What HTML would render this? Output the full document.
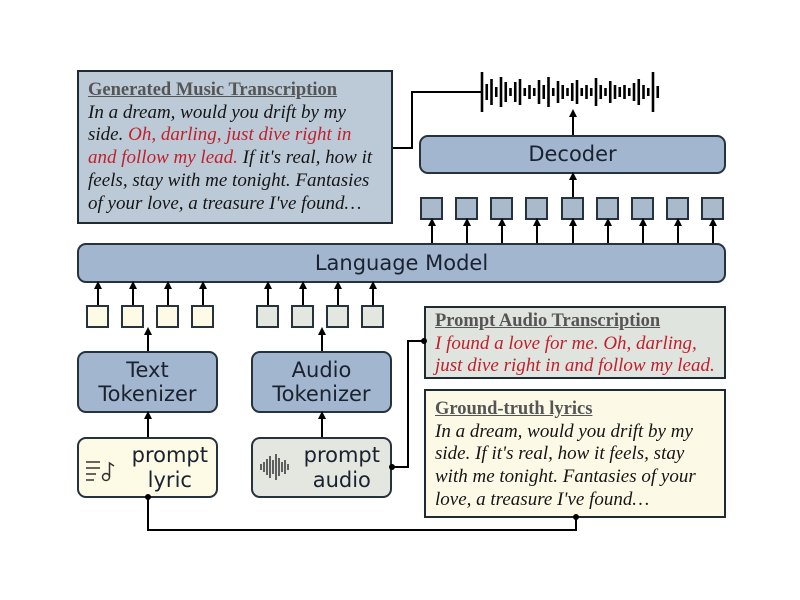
<!DOCTYPE html>
<html><head><meta charset="utf-8"><style>
body{margin:0;width:800px;height:600px;background:#fff;overflow:hidden;position:relative;font-family:"Liberation Sans","DejaVu Sans",sans-serif}
.b{position:absolute;box-sizing:border-box}
.r{border:2px solid #26323c;border-radius:9px;background:#a3b6cf;display:flex;align-items:center;justify-content:center;text-align:center;color:#1a2230;font-family:"DejaVu Sans",sans-serif;line-height:1.15}
.sq{position:absolute;box-sizing:border-box;border:2px solid #26323c;width:23px;height:23px}
.tb{border:2px solid #1f2b33;font-family:"Liberation Serif",serif;font-size:19px;line-height:22.7px;padding:2px 9px;color:#151515;font-style:italic;white-space:nowrap}
.tb h{display:block;font-style:normal;font-weight:bold;color:#555;text-decoration:underline;font-size:18.5px}
.red{color:#c0202c}
</style></head><body>
<div class="b tb" style="left:77px;top:70px;width:316px;height:154px;background:#bccad8;padding-top:7px"><h>Generated Music Transcription</h>In a dream, would you drift by my<br>side. <span class="red">Oh, darling, just dive right in<br>and follow my lead.</span> If it's real, how it<br>feels, stay with me tonight. Fantasies<br>of your love, a treasure I've found…</div>
<div class="b tb" style="left:424px;top:306px;width:302px;height:73px;background:#e0e4df;padding-top:2px"><h>Prompt Audio Transcription</h><span class="red">I found a love for me. Oh, darling,<br>just dive right in and follow my lead.</span></div>
<div class="b tb" style="left:424px;top:389px;width:302px;height:129px;background:#fcfae6;padding-top:7px"><h>Ground-truth lyrics</h>In a dream, would you drift by my<br>side. If it's real, how it feels, stay<br>with me tonight. Fantasies of your<br>love, a treasure I've found…</div>

<div class="b r" style="left:419px;top:135px;width:307px;height:39px;font-size:21px">Decoder</div>
<div class="b r" style="left:77px;top:243px;width:649px;height:40px;font-size:21px">Language Model</div>
<div class="b r" style="left:77px;top:351px;width:141px;height:62px;font-size:21px">Text<br>Tokenizer</div>
<div class="b r" style="left:251px;top:351px;width:141px;height:62px;font-size:21px">Audio<br>Tokenizer</div>
<div class="b r" style="left:77px;top:437px;width:141px;height:61px;font-size:21px;background:#fdfbe6;justify-content:flex-end;padding-right:8px">prompt<br>lyric</div>
<div class="b r" style="left:251px;top:437px;width:141px;height:61px;font-size:21px;background:#e4e6e0;justify-content:flex-end;padding-right:10px">prompt<br>audio</div>

<div class="sq" style="left:420px;top:197px;background:#a9bacd"></div>
<div class="sq" style="left:455px;top:197px;background:#a9bacd"></div>
<div class="sq" style="left:490px;top:197px;background:#a9bacd"></div>
<div class="sq" style="left:525px;top:197px;background:#a9bacd"></div>
<div class="sq" style="left:561px;top:197px;background:#a9bacd"></div>
<div class="sq" style="left:596px;top:197px;background:#a9bacd"></div>
<div class="sq" style="left:631px;top:197px;background:#a9bacd"></div>
<div class="sq" style="left:666px;top:197px;background:#a9bacd"></div>
<div class="sq" style="left:701px;top:197px;background:#a9bacd"></div>
<div class="sq" style="left:86px;top:305px;background:#fdfbe6"></div>
<div class="sq" style="left:121px;top:305px;background:#fdfbe6"></div>
<div class="sq" style="left:156px;top:305px;background:#fdfbe6"></div>
<div class="sq" style="left:191px;top:305px;background:#fdfbe6"></div>
<div class="sq" style="left:256px;top:305px;background:#e4e6e0"></div>
<div class="sq" style="left:291px;top:305px;background:#e4e6e0"></div>
<div class="sq" style="left:326px;top:305px;background:#e4e6e0"></div>
<div class="sq" style="left:361px;top:305px;background:#e4e6e0"></div>

<svg width="800" height="600" style="position:absolute;left:0;top:0">
<defs><marker id="a" markerWidth="8" markerHeight="8" refX="4" refY="4" orient="auto" markerUnits="userSpaceOnUse"><path d="M0,0 L8,4 L0,8 z" fill="#000"/></marker></defs>
<g stroke="#000" stroke-width="2" fill="none" marker-end="url(#a)">
<line x1="432" y1="243" x2="432" y2="222"/><line x1="467" y1="243" x2="467" y2="222"/><line x1="502" y1="243" x2="502" y2="222"/><line x1="537" y1="243" x2="537" y2="222"/><line x1="573" y1="243" x2="573" y2="222"/><line x1="608" y1="243" x2="608" y2="222"/><line x1="643" y1="243" x2="643" y2="222"/><line x1="678" y1="243" x2="678" y2="222"/><line x1="713" y1="243" x2="713" y2="222"/>
<line x1="573" y1="197" x2="573" y2="176"/>
<line x1="573" y1="135" x2="573" y2="113"/>
<line x1="98" y1="305" x2="98" y2="285"/><line x1="133" y1="305" x2="133" y2="285"/><line x1="168" y1="305" x2="168" y2="285"/><line x1="203" y1="305" x2="203" y2="285"/>
<line x1="268" y1="305" x2="268" y2="285"/><line x1="303" y1="305" x2="303" y2="285"/><line x1="338" y1="305" x2="338" y2="285"/><line x1="373" y1="305" x2="373" y2="285"/>
<line x1="148" y1="351" x2="148" y2="331"/><line x1="322" y1="351" x2="322" y2="331"/>
<line x1="148" y1="437" x2="148" y2="415"/><line x1="322" y1="437" x2="322" y2="415"/>
</g>
<g stroke="#000" stroke-width="2" fill="none">
<polyline points="393,148 412,148 412,92 482,92"/>
<polyline points="392,467 408,467 408,341 424,341"/>
<polyline points="148,497 148,530 576,530 576,517"/>
</g>
<g fill="#000"><circle cx="392" cy="467" r="3"/><circle cx="424" cy="341" r="3"/><circle cx="148" cy="497" r="3"/><circle cx="576" cy="517" r="3"/></g>
<g stroke="#000" stroke-width="2.6" id="w"></g>
<g stroke="#333" stroke-width="1.5" fill="none">
<line x1="86" y1="462" x2="100" y2="462"/><line x1="86" y1="468" x2="100" y2="468"/><line x1="86" y1="474" x2="96" y2="474"/><line x1="86" y1="480" x2="94" y2="480"/>
<circle cx="106" cy="477" r="3.5"/><path d="M109.5,477 V463 L114,466"/>
</g>
<g stroke="#333" stroke-width="1.5" id="w2"></g>
</svg>
<script>
var h=[40,16,26,10,30,20,8,20,26,8,14,8,24,14,30,8,22,14,8,18,24,8,14,8,28,14,8,22,14,10,14,8,18,26,14,8,40,12];
var s='';for(var i=0;i<h.length;i++){var x=482+i*4.75;s+='<line x1="'+x+'" x2="'+x+'" y1="'+(92-h[i]/2)+'" y2="'+(92+h[i]/2)+'"/>';}
document.getElementById('w').innerHTML=s;
var g=[6,10,16,22,14,26,18,10,14,6];s='';
for(i=0;i<g.length;i++){x=261+i*3;s+='<line x1="'+x+'" x2="'+x+'" y1="'+(467-g[i]/2)+'" y2="'+(467+g[i]/2)+'"/>';}
document.getElementById('w2').innerHTML=s;
</script>
</body></html>
